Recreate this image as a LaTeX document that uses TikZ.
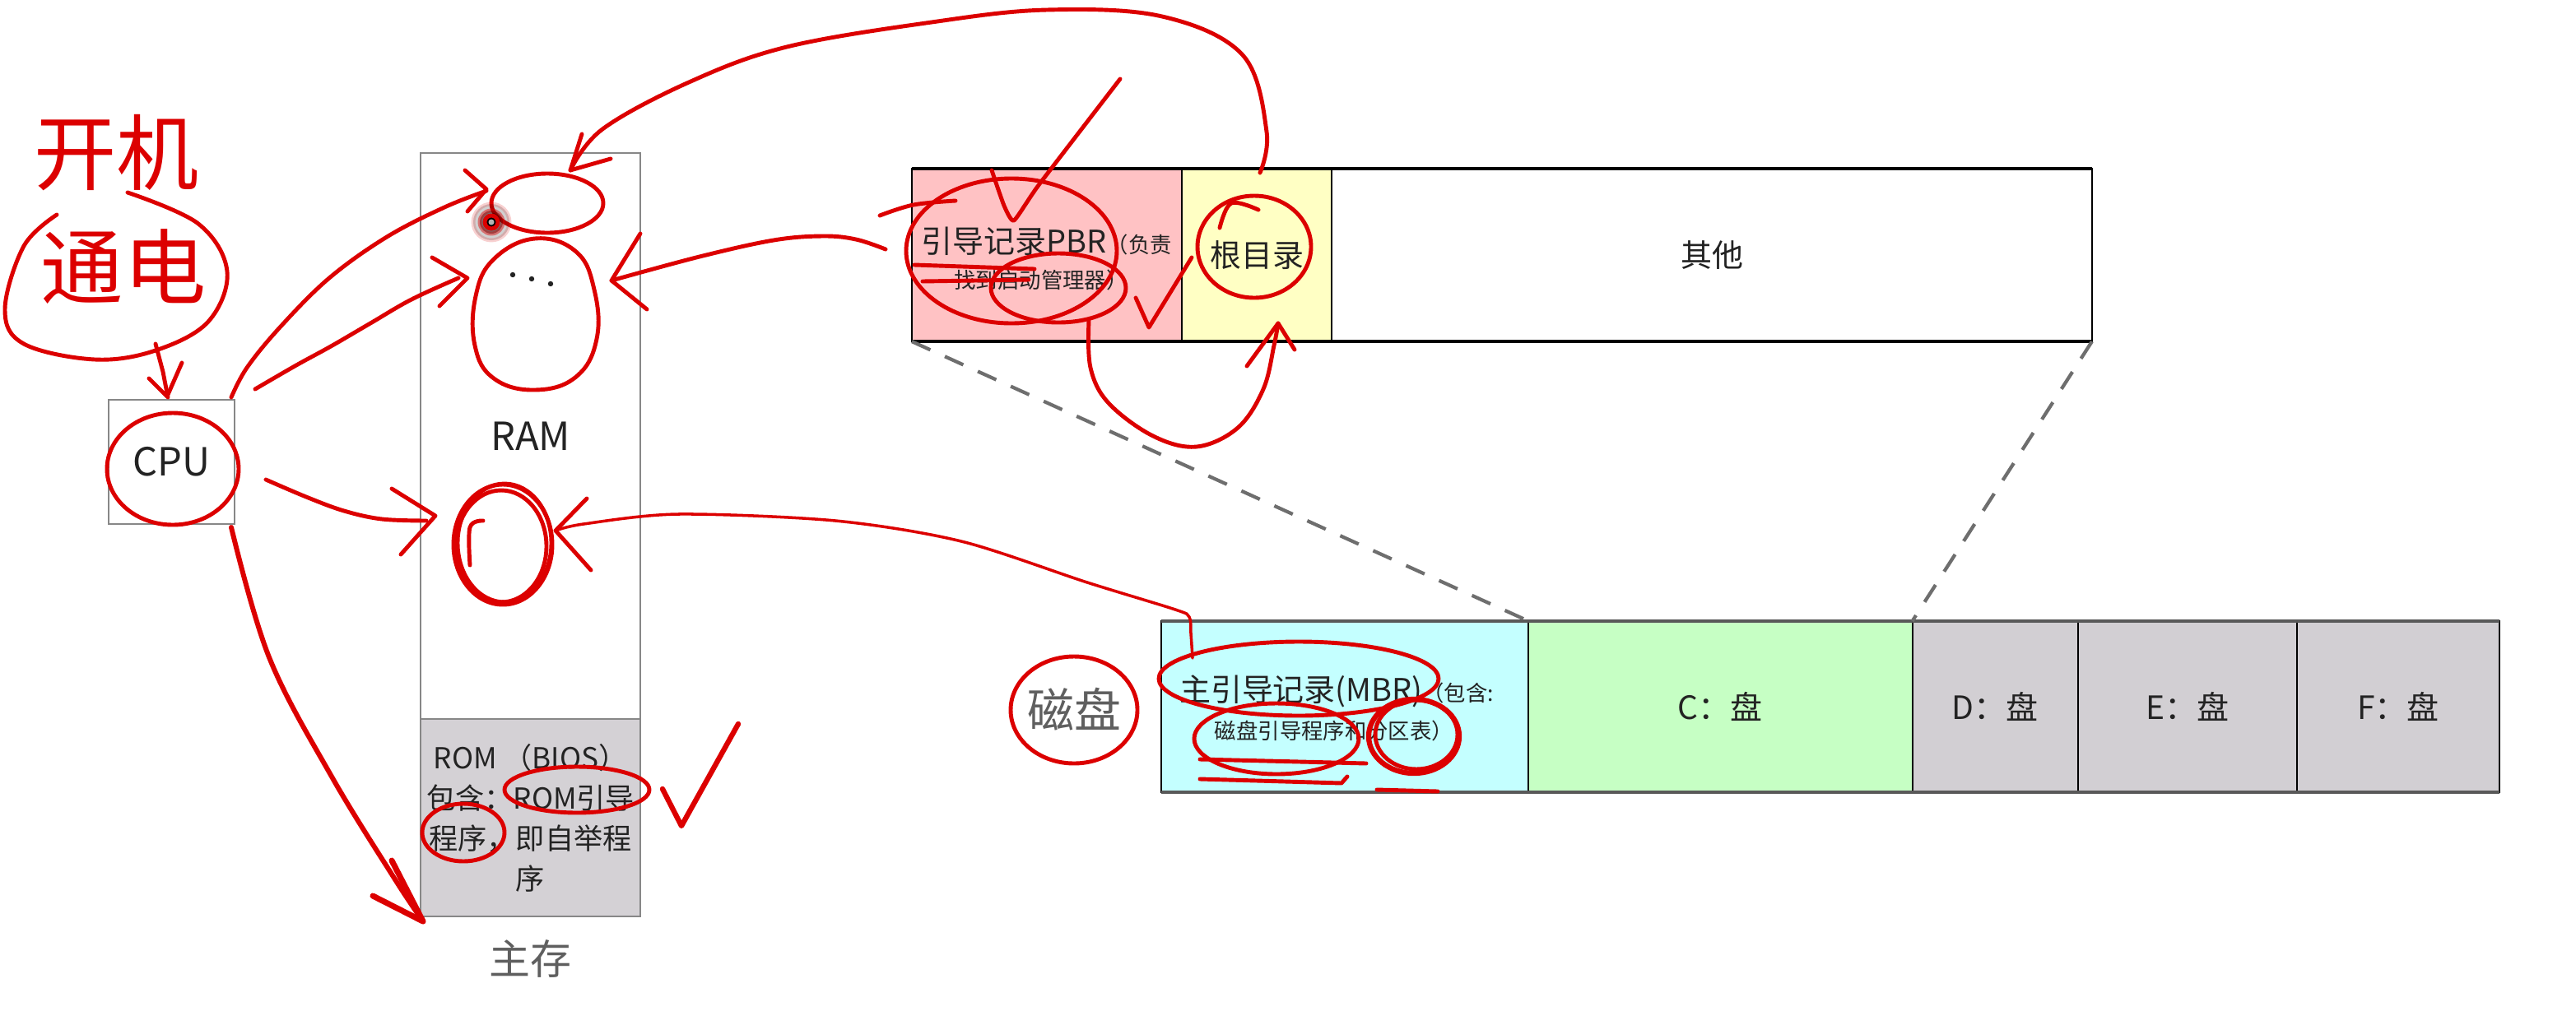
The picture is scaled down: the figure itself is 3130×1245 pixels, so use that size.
\documentclass[tikz,border=0pt]{standalone}
\usepackage{fontspec}
\setmainfont{Noto Sans CJK SC}
\usetikzlibrary{arrows.meta}
\definecolor{pbrc}{RGB}{255,194,196}
\definecolor{rootc}{RGB}{255,255,196}
\definecolor{mbrc}{RGB}{196,255,255}
\definecolor{cdc}{RGB}{198,255,196}
\definecolor{odc}{RGB}{210,207,211}
\definecolor{romgray}{RGB}{212,209,213}
\definecolor{pen}{RGB}{220,0,0}
\definecolor{boxline}{RGB}{135,135,135}
\definecolor{txt}{RGB}{35,35,35}
\definecolor{dashgray}{RGB}{110,110,110}
\definecolor{labgray}{RGB}{95,95,95}
\newcommand\myfsA{\fontsize{10.8pt}{13pt}\selectfont}
\newcommand\myfsB{\fontsize{7.5pt}{9pt}\selectfont}
\newcommand\myfsCPU{\fontsize{13.4pt}{16pt}\selectfont}
\newcommand\myfsRom{\fontsize{10pt}{13.9pt}\selectfont}
\newcommand\myfsMain{\fontsize{14.2pt}{17pt}\selectfont}
\newcommand\myfsDisk{\fontsize{16.2pt}{19pt}\selectfont}
\newcommand\myfsCell{\fontsize{11.1pt}{13pt}\selectfont}
\newcommand\myfsHand{\fontsize{28.5pt}{32pt}\selectfont}
\begin{document}
\begin{tikzpicture}[x=0.01cm,y=-0.01cm,
  cell/.style={draw=black, line width=0.6pt, anchor=north west, inner sep=0pt, outer sep=0pt, text=txt},
  gbox/.style={draw=boxline, line width=0.7pt, anchor=north west, inner sep=0pt, outer sep=0pt, text=txt},
  lbl/.style={text=txt, inner sep=0pt},
  pen/.style={draw=pen, line width=1.4pt, line cap=round, line join=round},
  thinpen/.style={draw=pen, line width=1pt, line cap=round, line join=round},
  zoomline/.style={draw=dashgray, line width=1.2pt, dash pattern=on 7pt off 5.5pt},
]
\useasboundingbox[fill=white] (0,0) rectangle (3130,1245);

% ---------- CPU and main memory ----------
\node[gbox, font=\myfsCPU, minimum width=1.53cm, minimum height=1.51cm] (cpu) at (132,486) {CPU};
\node[gbox, font=\myfsCPU, minimum width=2.67cm, minimum height=6.88cm] (ram) at (511,186) {RAM};
\node[gbox, fill=romgray, font=\myfsRom, align=center, minimum width=2.67cm, minimum height=2.40cm] (rom) at (511,874)
  {ROM （BIOS）\\包含：ROM引导\\程序，即自举程\\序};
\node[lbl, text=labgray, font=\myfsMain] (mainmem) at (644,1165) {主存};

% ---------- partition (zoomed) bar ----------
\node[cell, fill=pbrc, minimum width=3.28cm, minimum height=2.10cm] (pbr) at (1108,205) {};
\node[cell, fill=rootc, font=\myfsA, minimum width=1.82cm, minimum height=2.10cm] (root) at (pbr.north east) {根目录};
\node[cell, fill=white, font=\myfsA, minimum width=9.23cm, minimum height=2.10cm] (other) at (root.north east) {其他};
\draw[line width=1.3pt] (pbr.north west) -- (other.north east);
\draw[line width=1.3pt] (pbr.south west) -- (other.south east);
\node[lbl, font=\myfsA] (pbrl1) at (1272,293) {引导记录PBR{\myfsB（负责}};
\node[lbl, font=\myfsB] (pbrl2) at (1265,340) {找到启动管理器）};

% ---------- disk bar ----------
\node[cell, fill=mbrc, minimum width=4.46cm, minimum height=2.08cm] (mbr) at (1411,755) {};
\node[cell, fill=cdc, font=\myfsCell, minimum width=4.66cm, minimum height=2.08cm] (cdisk) at (mbr.north east) {C：盘};
\node[cell, fill=odc, font=\myfsCell, minimum width=2.01cm, minimum height=2.08cm] (ddisk) at (cdisk.north east) {D：盘};
\node[cell, fill=odc, font=\myfsCell, minimum width=2.66cm, minimum height=2.08cm] (edisk) at (ddisk.north east) {E：盘};
\node[cell, fill=odc, font=\myfsCell, minimum width=2.46cm, minimum height=2.08cm] (fdisk) at (edisk.north east) {F：盘};
\draw[line width=1.3pt, draw=black!65] (mbr.north west) -- (fdisk.north east);
\draw[line width=1.3pt, draw=black!65] (mbr.south west) -- (fdisk.south east);
\node[lbl, font=\myfsA] (mbrl1) at (1624,840) {主引导记录(MBR){\myfsB（包含:}};
\node[lbl, font=\myfsB] (mbrl2) at (1621,888) {磁盘引导程序和分区表）};
\node[lbl, text=labgray, font=\myfsDisk] (disklabel) at (1305,862) {磁盘};

% ---------- zoom lines ----------
\draw[zoomline] (pbr.south west) -- (cdisk.north west);
\draw[zoomline] (other.south east) -- (cdisk.north east);

% ---------- dots in RAM ----------
\fill[txt] (623,334) circle (3.2) (646,339) circle (3.2) (669,345) circle (3.2);

% ================= red hand annotations =================
\node[text=pen, font=\myfsHand, inner sep=0pt] (kaiji) at (142,186) {开机};
\node[text=pen, font=\myfsHand, inner sep=0pt] (tongdian) at (150,324) {通电};
\draw[pen] plot[smooth, tension=0.6] coordinates {(69,261) (29,299) (6,376) (29,418) (115,437) (189,426) (253,391) (276,330) (241,272) (155,234)};
% to CPU
\draw[pen] (189,418) -- (198,452) -- (204,483);
\draw[pen] (181,460) -- (203,482) -- (221,441);
% CPU circle
\draw[pen] (210,570) ellipse [x radius=80, y radius=68];
% CPU -> top RAM ellipse
\draw[pen] plot[smooth, tension=0.6] coordinates {(281,483) (300,447) (340,398) (400,338) (470,288) (540,252) (591,232)};
\draw[pen] (565,207) -- (591,230) -- (568,257);
\draw[pen] (665,247) ellipse [x radius=68, y radius=36];
% laser dot
\fill[pen, opacity=0.18] (597,270) circle (22);
\fill[pen, opacity=0.45] (597,270) circle (14);
\fill[pen] (597,270) circle (8);
\fill[white, opacity=0.7] (597,270) circle (3.5);
% CPU -> egg
\draw[pen] plot[smooth, tension=0.6] coordinates {(310,473) (360,444) (402,421) (450,393) (500,364) (557,338)};
\draw[pen] (525,313) -- (568,338) -- (534,372);
\draw[pen] plot[smooth cycle, tension=0.7] coordinates {(650,290) (700,306) (722,352) (725,412) (700,458) (650,474) (600,460) (577,420) (578,360) (600,315)};
% PBR -> egg
\draw[pen] plot[smooth, tension=0.6] coordinates {(1076,303) (1040,291) (1000,287) (940,292) (850,312) (743,341)};
\draw[pen] (778,284) -- (743,341) -- (786,376);
% root dir -> top RAM ellipse (big arc)
\draw[pen] plot[smooth, tension=0.6] coordinates {(1531,210) (1539,160) (1510,67) (1412,20) (1272,12) (1132,27) (956,57) (837,100) (732,157) (693,207)};
\draw[pen] (707,163) -- (693,207) -- (742,193);
% PBR marks
\draw[pen] plot[smooth, tension=0.3] coordinates {(1205,207) (1220,250) (1232,268) (1262,225) (1361,96)};
\draw[pen] (1229,305) ellipse [x radius=128, y radius=88];
\draw[pen] plot[smooth, tension=0.6] coordinates {(1069,262) (1110,249) (1161,244)};
\draw[pen] (1286,350) ellipse [x radius=82, y radius=42];
\draw[pen] (1111,322) -- (1257,327);
\draw[pen] (1121,342) -- (1250,340);
\draw[pen] (1380,362) -- (1396,398) -- (1448,313);
\draw[pen] (1524,300) ellipse [x radius=69, y radius=62];
\draw[pen] plot[smooth, tension=0.6] coordinates {(1482,277) (1496,247) (1529,255)};
% PBR -> root dir (under)
\draw[pen] plot[smooth, tension=0.6] coordinates {(1323,390) (1325,447) (1347,490) (1401,530) (1454,543) (1504,520) (1535,473) (1548,420) (1553,393)};
\draw[pen] (1515,445) -- (1553,393) -- (1573,425);
% CPU -> bottom RAM circle
\draw[pen] plot[smooth, tension=0.6] coordinates {(323,583) (372,604) (418,621) (464,631) (518,633)};
\draw[pen] (476,594) -- (529,627) -- (487,674);
\draw[pen] (611,662) ellipse [x radius=60, y radius=73];
\draw[pen] (609,664) ellipse [x radius=55, y radius=68];
\draw[pen] (613,660) ellipse [x radius=57, y radius=72];
\draw[pen] plot[smooth, tension=0.6] coordinates {(587,633) (571,641) (571,687)};
% MBR -> bottom RAM circle
\draw[thinpen] plot[smooth, tension=0.5] coordinates {(1449,800) (1447,770) (1445,750) (1428,741) (1321,708) (1168,658) (1015,633) (824,625) (709,637) (675,645)};
\draw[pen] (713,606) -- (675,645) -- (718,693);
% CPU -> ROM
\draw[pen, line width=1.7pt] plot[smooth, tension=0.6] coordinates {(281,641) (327,799) (403,944) (480,1069) (514,1120)};
\draw[pen, line width=2pt] (453,1089) -- (514,1120) -- (476,1046);
% ROM marks
\draw[pen] (701,960) ellipse [x radius=88, y radius=28];
\draw[pen] (563,1012) ellipse [x radius=50, y radius=35];
\draw[pen, line width=1.8pt] (805,959) -- (828,1004) -- (897,880);
% disk label circle
\draw[pen] (1305,863) ellipse [x radius=77, y radius=65];
% MBR marks
\draw[pen] (1578,825) ellipse [x radius=170, y radius=45];
\draw[pen] (1551,898) ellipse [x radius=100, y radius=43];
\draw[pen, line width=1.8pt] (1718,895) ellipse [x radius=55, y radius=45];
\draw[pen] (1721,893) ellipse [x radius=50, y radius=42];
\draw[pen] (1458,923) -- (1660,928);
\draw[pen] (1458,947) -- (1630,952) -- (1637,944);
\draw[pen] (1673,960) -- (1747,962);
\end{tikzpicture}
\end{document}
